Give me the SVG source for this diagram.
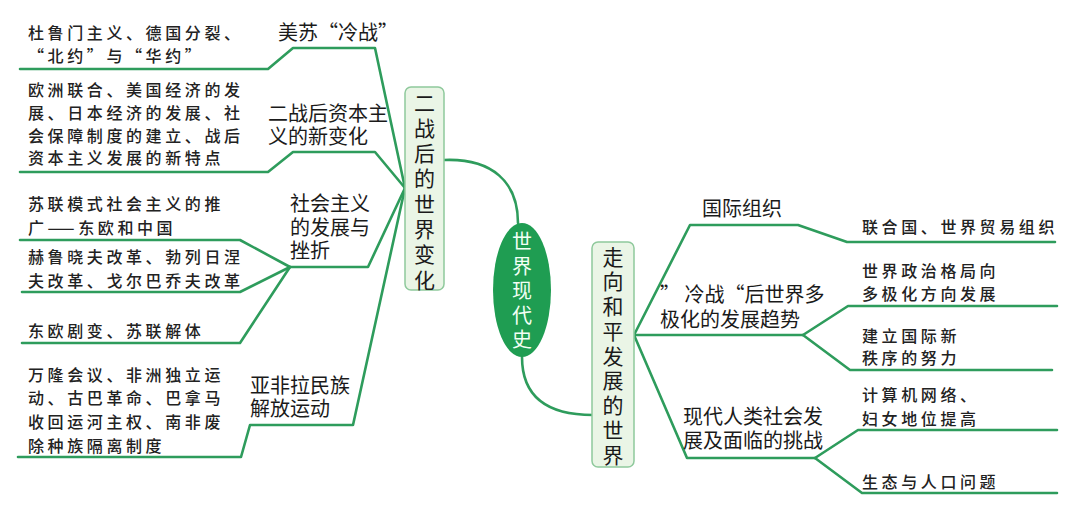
<svg xmlns="http://www.w3.org/2000/svg" width="1080" height="514" viewBox="0 0 1080 514">
<style>
.ln{fill:none;stroke:#2e9c5c;stroke-width:2.6;stroke-linejoin:round;stroke-linecap:round}
.leaf{font-family:"Noto Sans CJK SC","Noto Sans",sans-serif;font-size:16px;letter-spacing:3.6px;fill:#222;font-weight:500}
.br{font-family:"Noto Sans CJK SC","Noto Sans",sans-serif;font-size:20px;fill:#1a1a1a}
.box{fill:#eaf5e6;stroke:#8fc99c;stroke-width:1.5}
.bt{font-family:"Noto Sans CJK SC","Noto Sans",sans-serif;font-size:21px;fill:#1a1a1a;text-anchor:middle}
.ct{font-family:"Noto Sans CJK SC","Noto Sans",sans-serif;font-size:20px;fill:#f2fff5;text-anchor:middle}
</style>
<rect width="1080" height="514" fill="#ffffff"/>
<g id="connectors">
<path class="ln" d="M444,160 C492,158 518,182 518,223"/>
<path class="ln" d="M522,357 C522,400 552,415 593,415"/>
<path class="ln" d="M405,188 L375,48 L293,48 L268,69 L20,69"/>
<path class="ln" d="M405,188 L375,152 L293,152 L268,172 L20,172"/>
<path class="ln" d="M405,188 L368,267 L290,267"/>
<path class="ln" d="M290,267 L240,240 L20,240"/>
<path class="ln" d="M290,267 L240,292 L22,292"/>
<path class="ln" d="M290,267 L240,343 L22,343"/>
<path class="ln" d="M405,188 L353,425 L250,425 L241,457 L18,457"/>
<path class="ln" d="M634,335 L690,225 L798,225 L847,242 L1055,242"/>
<path class="ln" d="M634,335 L803,335"/>
<path class="ln" d="M803,335 L848,306 L1057,306"/>
<path class="ln" d="M803,335 L850,370 L1052,370"/>
<path class="ln" d="M634,335 L687,458 L815,458"/>
<path class="ln" d="M815,458 L858,430 L1057,430"/>
<path class="ln" d="M815,458 L862,493 L1057,493"/>
</g>
<g id="root">
<ellipse cx="522" cy="290" rx="29" ry="67" fill="#1f9d52"/>
<text class="ct" x="522" y="249">世</text>
<text class="ct" x="522" y="273.5">界</text>
<text class="ct" x="522" y="298">现</text>
<text class="ct" x="522" y="322.5">代</text>
<text class="ct" x="522" y="347">史</text>
</g>
<g id="node-left-main">
<rect class="box" x="405" y="87" width="39" height="203" rx="6"/>
<text class="bt" x="424.5" y="110.5">二</text>
<text class="bt" x="424.5" y="135.8">战</text>
<text class="bt" x="424.5" y="161.1">后</text>
<text class="bt" x="424.5" y="186.4">的</text>
<text class="bt" x="424.5" y="211.7">世</text>
<text class="bt" x="424.5" y="237">界</text>
<text class="bt" x="424.5" y="262.3">变</text>
<text class="bt" x="424.5" y="287.6">化</text>
</g>
<g id="node-right-main">
<rect class="box" x="592" y="242" width="42" height="225" rx="6"/>
<text class="bt" x="613" y="264.5">走</text>
<text class="bt" x="613" y="289.2">向</text>
<text class="bt" x="613" y="314">和</text>
<text class="bt" x="613" y="338.7">平</text>
<text class="bt" x="613" y="363.5">发</text>
<text class="bt" x="613" y="388.2">展</text>
<text class="bt" x="613" y="413">的</text>
<text class="bt" x="613" y="437.7">世</text>
<text class="bt" x="613" y="462.5">界</text>
</g>
<g id="node-coldwar"><text class="br" x="278" y="40">美苏“冷战”</text></g>
<g id="leaf-coldwar"><text class="leaf"><tspan x="28" y="39">杜鲁门主义、德国分裂、</tspan><tspan x="28" y="62">“北约”与“华约”</tspan></text></g>
<g id="node-capitalism"><text class="br"><tspan x="268" y="121">二战后资本主</tspan><tspan x="268" y="144">义的新变化</tspan></text></g>
<g id="leaf-capitalism"><text class="leaf"><tspan x="28" y="96">欧洲联合、美国经济的发</tspan><tspan x="28" y="119">展、日本经济的发展、社</tspan><tspan x="28" y="142">会保障制度的建立、战后</tspan><tspan x="28" y="164">资本主义发展的新特点</tspan></text></g>
<g id="node-socialism"><text class="br"><tspan x="290" y="211">社会主义</tspan><tspan x="290" y="235">的发展与</tspan><tspan x="290" y="258">挫折</tspan></text></g>
<g id="leaf-soviet-model"><text class="leaf"><tspan x="28" y="210">苏联模式社会主义的推</tspan><tspan x="28" y="234">广——东欧和中国</tspan></text></g>
<g id="leaf-reforms"><text class="leaf"><tspan x="28" y="263">赫鲁晓夫改革、勃列日涅</tspan><tspan x="28" y="287">夫改革、戈尔巴乔夫改革</tspan></text></g>
<g id="leaf-collapse"><text class="leaf" x="28" y="337">东欧剧变、苏联解体</text></g>
<g id="node-liberation"><text class="br"><tspan x="250" y="393">亚非拉民族</tspan><tspan x="250" y="416">解放运动</tspan></text></g>
<g id="leaf-liberation"><text class="leaf"><tspan x="28" y="381">万隆会议、非洲独立运</tspan><tspan x="28" y="404">动、古巴革命、巴拿马</tspan><tspan x="28" y="428">收回运河主权、南非废</tspan><tspan x="28" y="452">除种族隔离制度</tspan></text></g>
<g id="node-intl-org"><text class="br" x="702" y="216">国际组织</text></g>
<g id="leaf-intl-org"><text class="leaf" x="862" y="233">联合国、世界贸易组织</text></g>
<g id="node-multipolar"><text class="br"><tspan x="660" y="302">” 冷战“后世界多</tspan><tspan x="660" y="327">极化的发展趋势</tspan></text></g>
<g id="leaf-multipolar"><text class="leaf"><tspan x="862" y="277">世界政治格局向</tspan><tspan x="862" y="300">多极化方向发展</tspan></text></g>
<g id="leaf-new-order"><text class="leaf"><tspan x="862" y="342">建立国际新</tspan><tspan x="862" y="364">秩序的努力</tspan></text></g>
<g id="node-challenges"><text class="br"><tspan x="683" y="424">现代人类社会发</tspan><tspan x="683" y="448">展及面临的挑战</tspan></text></g>
<g id="leaf-network"><text class="leaf"><tspan x="862" y="401">计算机网络、</tspan><tspan x="862" y="425">妇女地位提高</tspan></text></g>
<g id="leaf-ecology"><text class="leaf" x="862" y="488">生态与人口问题</text></g>
</svg>
